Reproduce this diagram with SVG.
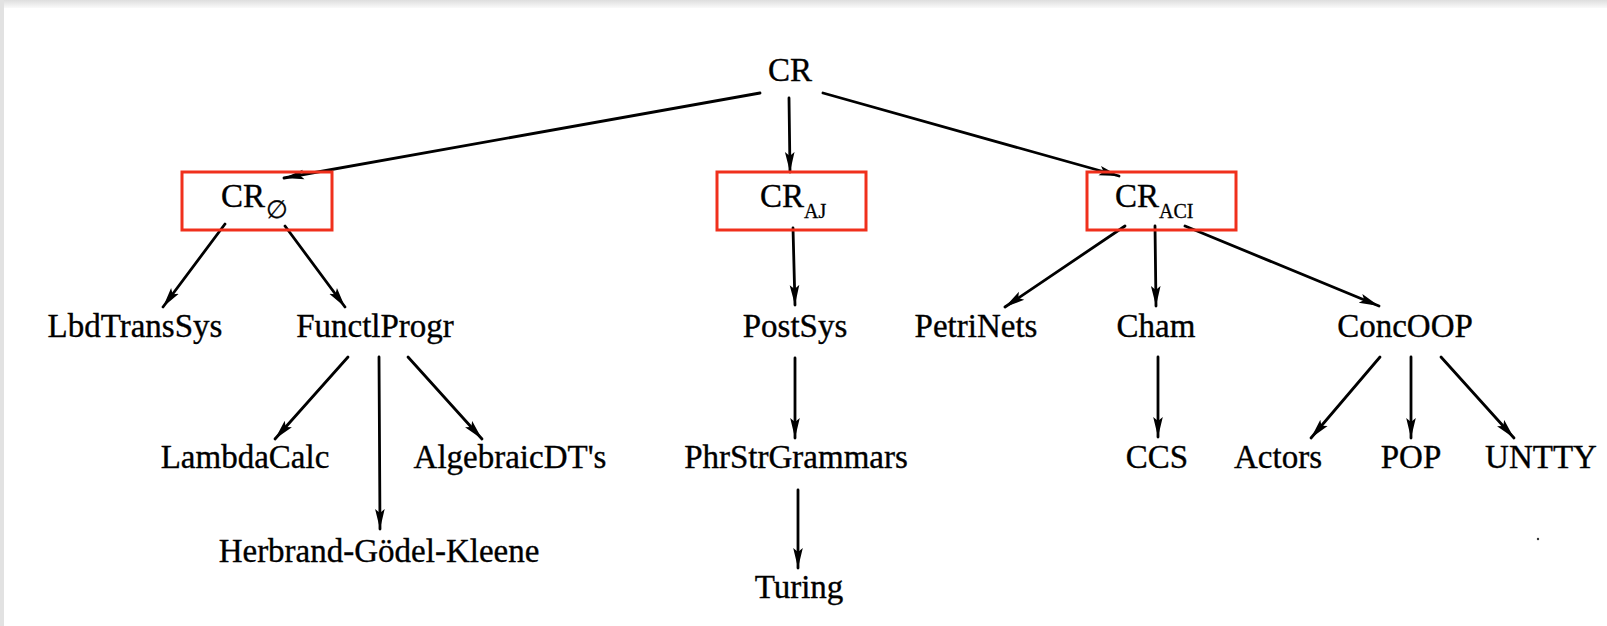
<svg xmlns="http://www.w3.org/2000/svg" width="1607" height="626" viewBox="0 0 1607 626">
  <defs>
    <linearGradient id="topShade" x1="0" y1="0" x2="0" y2="1">
      <stop offset="0" stop-color="#dedede"/>
      <stop offset="1" stop-color="#fafafa"/>
    </linearGradient>
    <marker id="arrow" markerUnits="userSpaceOnUse" markerWidth="22" markerHeight="12" refX="20" refY="6" orient="auto">
      <path d="M0,1.2 L20,6 L0,10.8 L4,6 z" fill="#000"/>
    </marker>
    <style>
      .lbl { font-family: "Liberation Serif", "Times New Roman", serif; font-size: 33px; fill: #000; stroke: #000; stroke-width: 0.35; text-anchor: middle; }
      .cr { font-family: "Liberation Serif", "Times New Roman", serif; font-size: 33px; fill: #000; stroke: #000; stroke-width: 0.35; }
      .sub { font-family: "Liberation Serif", "DejaVu Serif", serif; font-size: 20px; fill: #000; stroke: #000; stroke-width: 0.3; }
      .box { fill: none; stroke: #f0301c; stroke-width: 3; }
      .edge { fill: none; stroke: #000; stroke-width: 2.8; stroke-linecap: round; marker-end: url(#arrow); }
    </style>
  </defs>

  <!-- page -->
  <rect x="0" y="0" width="1607" height="626" fill="#ffffff"/>
  <rect x="0" y="0" width="1607" height="8" fill="url(#topShade)"/>
  <rect x="0" y="0" width="4" height="626" fill="#e2e2e2"/>

  <!-- connectors -->
  <g id="connectors">
    <path class="edge" d="M760,93 L284,178"/>
    <path class="edge" d="M789,98 L790,172"/>
    <path class="edge" d="M823,93 L1119,176"/>

    <path class="edge" d="M225,224 L163,307"/>
    <path class="edge" d="M285,226 L345,307"/>
    <path class="edge" d="M793,228 L795,305"/>
    <path class="edge" d="M1125,226 L1005,307"/>
    <path class="edge" d="M1155,226 L1156,306"/>
    <path class="edge" d="M1185,226 L1379,306"/>

    <path class="edge" d="M348,357 L275,439"/>
    <path class="edge" d="M379,357 L380,529"/>
    <path class="edge" d="M408,357 L482,439"/>
    <path class="edge" d="M795,358 L795,438"/>
    <path class="edge" d="M798,490 L798,568"/>
    <path class="edge" d="M1158,357 L1158,437"/>
    <path class="edge" d="M1380,357 L1311,438"/>
    <path class="edge" d="M1411,357 L1411,438"/>
    <path class="edge" d="M1441,357 L1514,438"/>
  </g>

  <!-- root -->
  <g id="node-cr">
    <text class="lbl" x="790" y="81">CR</text>
  </g>

  <!-- boxed classes -->
  <g id="node-cr-empty">
    <rect class="box" x="182" y="172" width="150" height="58"/>
    <text class="cr" x="221" y="207">CR</text>
    <text class="sub" x="266" y="218" style="font-size:25px">∅</text>
  </g>
  <g id="node-cr-aj">
    <rect class="box" x="717" y="172" width="149" height="58"/>
    <text class="cr" x="760" y="207">CR</text>
    <text class="sub" x="804" y="218">AJ</text>
  </g>
  <g id="node-cr-aci">
    <rect class="box" x="1087" y="172" width="149" height="58"/>
    <text class="cr" x="1115" y="207">CR</text>
    <text class="sub" x="1159" y="218">ACI</text>
  </g>

  <!-- second row -->
  <g id="node-lbdtranssys"><text class="lbl" x="135" y="337">LbdTransSys</text></g>
  <g id="node-functlprogr"><text class="lbl" x="375" y="337">FunctlProgr</text></g>
  <g id="node-postsys"><text class="lbl" x="795" y="337">PostSys</text></g>
  <g id="node-petrinets"><text class="lbl" x="976" y="337">PetriNets</text></g>
  <g id="node-cham"><text class="lbl" x="1156" y="337">Cham</text></g>
  <g id="node-concoop"><text class="lbl" x="1405" y="337">ConcOOP</text></g>

  <!-- third row -->
  <g id="node-lambdacalc"><text class="lbl" x="245" y="468">LambdaCalc</text></g>
  <g id="node-algebraicdts"><text class="lbl" x="510" y="468">AlgebraicDT's</text></g>
  <g id="node-phrstrgrammars"><text class="lbl" x="796" y="468">PhrStrGrammars</text></g>
  <g id="node-ccs"><text class="lbl" x="1157" y="468">CCS</text></g>
  <g id="node-actors"><text class="lbl" x="1278" y="468">Actors</text></g>
  <g id="node-pop"><text class="lbl" x="1411" y="468">POP</text></g>
  <g id="node-untty"><text class="lbl" x="1541" y="468">UNTTY</text></g>

  <!-- fourth row -->
  <g id="node-hgk"><text class="lbl" x="379" y="562">Herbrand-Gödel-Kleene</text></g>
  <g id="node-turing"><text class="lbl" x="799" y="598">Turing</text></g>

  <circle cx="1538" cy="539" r="1.2" fill="#333"/>
</svg>
